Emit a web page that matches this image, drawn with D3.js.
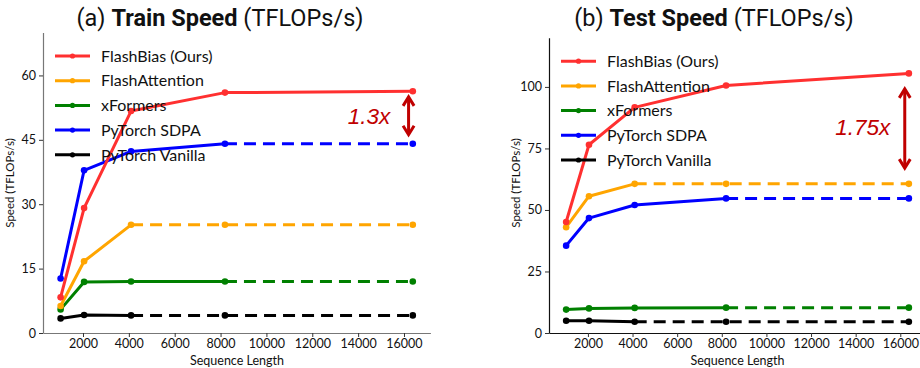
<!DOCTYPE html>
<html><head><meta charset="utf-8">
<script src="https://cdn.jsdelivr.net/npm/d3@7"></script>
<style>body{margin:0;background:#fff}svg{display:block}</style>
</head><body><svg id="c" width="920" height="368"></svg>
<script>
const seqLens = [1024, 2048, 4096, 8192, 16384];
const methods = ["FlashBias (Ours)", "FlashAttention", "xFormers", "PyTorch SDPA", "PyTorch Vanilla"];
const colors = ["#ff3030", "#ffa500", "#008000", "#0000ff", "#000000"];
// train speed (TFLOPs/s)
const trainFlashBias = [8.3, 29.1, 51.7, 56.0, 56.3];
const trainFlashAttn = [6.3, 16.7, 25.2, 25.2, 25.2];
const trainXFormers  = [5.5, 11.9, 12.0, 12.0, 12.0];
const trainSDPA      = [12.7, 37.9, 42.3, 44.1, 44.1];
const trainVanilla   = [3.4, 4.2, 4.1, 4.1, 4.1];
// index after which line is dashed (extrapolated)
const trainSolidEnd  = [4, 2, 3, 3, 2];
// test speed (TFLOPs/s)
const testFlashBias = [45.1, 76.5, 91.7, 100.6, 105.5];
const testFlashAttn = [43.0, 55.6, 60.6, 60.6, 60.6];
const testXFormers  = [9.5, 10.0, 10.2, 10.3, 10.3];
const testSDPA      = [35.5, 46.7, 52.0, 54.7, 54.7];
const testVanilla   = [5.0, 5.0, 4.6, 4.6, 4.6];
const testSolidEnd  = [4, 2, 3, 3, 2];
const xTicks = [2000, 4000, 6000, 8000, 10000, 12000, 14000, 16000];
const trainYTicks = [0, 15, 30, 45, 60];
const testYTicks = [0, 25, 50, 75, 100];

const svg = d3.select("#c");
const tickFont = "Lato, 'Open Sans', sans-serif";

function panel(cfg) {
  const g = svg.append("g");
  const x = d3.scaleLinear().domain([256, 17152]).range([cfg.left, cfg.right]);
  const y = d3.scaleLinear().domain([0, cfg.ymax]).range([333, cfg.top]);

  // title
  const t = g.append("text").attr("x", cfg.titleX).attr("y", 26).attr("text-anchor", "middle")
    .attr("font-family", "Roboto, 'Liberation Sans', sans-serif").attr("font-size", 23.5).attr("fill", "#111");
  t.append("tspan").text(cfg.label + " ");
  t.append("tspan").attr("font-weight", "bold").text(cfg.title);
  t.append("tspan").text(" (TFLOPs/s)");

  // axes
  const ya = g.append("g").attr("transform", `translate(${cfg.left},0)`)
    .call(d3.axisLeft(y).tickValues(cfg.yTicks).tickSize(4).tickPadding(3).tickSizeOuter(0));
  const xa = g.append("g").attr("transform", `translate(0,333)`)
    .call(d3.axisBottom(x).tickValues(xTicks).tickSize(4).tickPadding(2).tickSizeOuter(0).tickFormat(d3.format("d")));
  [ya, xa].forEach(a => {
    a.selectAll("path.domain").attr("stroke", cfg.spine).attr("stroke-width", 1.2);
    a.selectAll(".tick line").attr("stroke", "#333");
    a.selectAll("text").attr("font-family", tickFont).attr("font-size", 12.5).attr("fill", "#111");
  });

  g.append("text").attr("transform", `translate(${cfg.left - 29},183) rotate(-90)`)
    .attr("text-anchor", "middle").attr("font-family", tickFont).attr("font-size", 11.5)
    .attr("fill", "#111").text("Speed (TFLOPs/s)");
  g.append("text").attr("x", cfg.xlabelX).attr("y", 365).attr("text-anchor", "middle")
    .attr("font-family", tickFont).attr("font-size", 12.5).attr("fill", "#111").text("Sequence Length");

  const line = d3.line().x(d => x(d[0])).y(d => y(d[1]));
  const order = [4, 2, 1, 3, 0];
  order.forEach(i => {
    const pts = seqLens.map((s, k) => [s, cfg.series[i][k]]);
    const se = cfg.solidEnd[i];
    const solid = pts.slice(0, se + 1), dashed = pts.slice(se);
    g.append("path").attr("d", line(solid)).attr("fill", "none").attr("stroke", colors[i])
      .attr("stroke-width", 3).attr("stroke-linejoin", "round").attr("stroke-linecap", "round");
    if (dashed.length > 1)
      g.append("path").attr("d", line(dashed)).attr("fill", "none").attr("stroke", colors[i])
        .attr("stroke-width", 3).attr("stroke-dasharray", "12,7");
    g.selectAll(null).data(pts).enter().append("circle")
      .attr("cx", d => x(d[0])).attr("cy", d => y(d[1])).attr("r", 3.3).attr("fill", colors[i]);
  });

  // legend
  methods.forEach((m, i) => {
    const ly = cfg.top + 23.5 + i * 24.7;
    const lx = cfg.left + 12;
    g.append("line").attr("x1", lx).attr("x2", lx + 35).attr("y1", ly).attr("y2", ly)
      .attr("stroke", colors[i]).attr("stroke-width", 3);
    g.append("circle").attr("cx", lx + 17.5).attr("cy", ly).attr("r", 2.6).attr("fill", colors[i]);
    g.append("text").attr("x", lx + 46).attr("y", ly + 5.7).attr("font-family", tickFont)
      .attr("font-size", 16).attr("fill", "#111").text(m);
  });

  // annotation
  const ac = "#c00000";
  const ax = x(cfg.arrowX), a1 = y(cfg.arrowTop), a2 = y(cfg.arrowBot);
  g.append("line").attr("x1", ax).attr("x2", ax).attr("y1", a1 + 2).attr("y2", a2 - 2)
    .attr("stroke", ac).attr("stroke-width", 3);
  g.append("path").attr("d", `M${ax - 5.5},${a1 + 9}L${ax},${a1}L${ax + 5.5},${a1 + 9}`)
    .attr("fill", "none").attr("stroke", ac).attr("stroke-width", 3).attr("stroke-linejoin", "miter");
  g.append("path").attr("d", `M${ax - 5.5},${a2 - 9}L${ax},${a2}L${ax + 5.5},${a2 - 9}`)
    .attr("fill", "none").attr("stroke", ac).attr("stroke-width", 3).attr("stroke-linejoin", "miter");
  g.append("text").attr("x", x(cfg.textX)).attr("y", y(cfg.textY)).attr("text-anchor", "end")
    .attr("font-family", "'Liberation Sans', Arial, sans-serif").attr("font-style", "italic")
    .attr("font-size", 22.5).attr("fill", ac).text(cfg.ratio);
}

panel({label: "(a)", title: "Train Speed", titleX: 220, left: 43, right: 430.4, top: 32.5, ymax: 70,
  yTicks: trainYTicks, spine: "#777", xlabelX: 237,
  series: [trainFlashBias, trainFlashAttn, trainXFormers, trainSDPA, trainVanilla], solidEnd: trainSolidEnd,
  arrowX: 16200, arrowTop: 55.0, arrowBot: 46.2, textX: 15400, textY: 48.7, ratio: "1.3x"});
panel({label: "(b)", title: "Test Speed", titleX: 714, left: 549, right: 926, top: 37.7, ymax: 120,
  yTicks: testYTicks, spine: "#111", xlabelX: 737.5,
  series: [testFlashBias, testFlashAttn, testXFormers, testSDPA, testVanilla], solidEnd: testSolidEnd,
  arrowX: 16200, arrowTop: 99.2, arrowBot: 67.0, textX: 15550, textY: 80.3, ratio: "1.75x"});
</script></body></html>
